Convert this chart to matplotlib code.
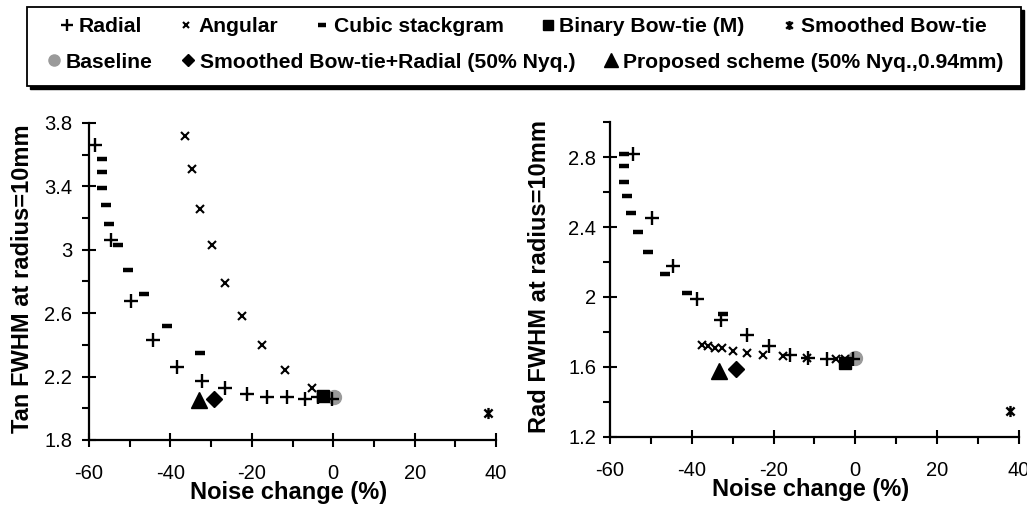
import matplotlib
matplotlib.use('Agg')
import matplotlib.pyplot as plt
from matplotlib.path import Path
from matplotlib.patches import Rectangle
from matplotlib.ticker import MultipleLocator, FuncFormatter

plt.rcParams['font.family'] = ['Liberation Sans', 'DejaVu Sans']

# ---- Tan FWHM (left panel) ----
rad_tan_x = [-58.6, -54.7, -49.6, -44.4, -38.5, -32.3, -26.6, -21.3, -16.2, -11.4, -6.9, -3.7, -0.2]
rad_tan_y = [3.66, 3.06, 2.68, 2.43, 2.26, 2.17, 2.13, 2.09, 2.07, 2.07, 2.06, 2.07, 2.06]
ang_tan_x = [-36.3, -34.8, -32.8, -29.9, -26.5, -22.3, -17.6, -11.9, -5.3]
ang_tan_y = [3.72, 3.51, 3.26, 3.03, 2.79, 2.58, 2.40, 2.24, 2.13]
cub_tan_x = [-56.7, -56.7, -56.7, -55.9, -55.0, -53.0, -50.5, -46.6, -40.8, -32.8]
cub_tan_y = [3.57, 3.49, 3.39, 3.28, 3.16, 3.03, 2.87, 2.72, 2.52, 2.35]
bin_tan_x, bin_tan_y = [-2.5], [2.08]
smo_tan_x, smo_tan_y = [38.0], [1.97]
base_tan_x, base_tan_y = [0.3], [2.07]
sbr_tan_x, sbr_tan_y = [-29.2], [2.06]
prop_tan_x, prop_tan_y = [-33.1], [2.05]
tan_yticks = [1.8, 2.2, 2.6, 3.0, 3.4, 3.8]

# ---- Rad FWHM (right panel) ----
rad_rad_x = [-54.5, -49.8, -44.5, -38.7, -32.9, -26.4, -21.1, -16.0, -11.5, -7.0, -0.5]
rad_rad_y = [2.815, 2.45, 2.18, 1.99, 1.87, 1.78, 1.72, 1.67, 1.65, 1.645, 1.645]
ang_rad_x = [-37.6, -36.0, -34.3, -32.7, -29.9, -26.4, -22.5, -17.6, -11.9, -4.6, -2.5]
ang_rad_y = [1.725, 1.72, 1.71, 1.71, 1.69, 1.68, 1.67, 1.66, 1.65, 1.645, 1.645]
cub_rad_x = [-56.7, -56.7, -56.7, -55.8, -54.9, -53.1, -50.6, -46.6, -41.1, -32.3]
cub_rad_y = [2.82, 2.75, 2.66, 2.58, 2.48, 2.37, 2.26, 2.13, 2.02, 1.905]
bin_rad_x, bin_rad_y = [-2.5], [1.62]
smo_rad_x, smo_rad_y = [37.8], [1.35]
base_rad_x, base_rad_y = [0.0], [1.65]
sbr_rad_x, sbr_rad_y = [-29.2], [1.59]
prop_rad_x, prop_rad_y = [-33.4], [1.575]
rad_yticks = [1.2, 1.6, 2.0, 2.4, 2.8]

xticks = [-60, -40, -20, 0, 20, 40]

labels = ["Radial", "Angular", "Cubic stackgram", "Binary Bow-tie (M)", "Smoothed Bow-tie",
          "Baseline", "Smoothed Bow-tie+Radial (50% Nyq.)", "Proposed scheme (50% Nyq.,0.94mm)"]

# x with a vertical bar, like the excel "star" marker
star = Path([(-1, -1), (1, 1), (-1, 1), (1, -1), (0, -1.35), (0, 1.35)],
            [Path.MOVETO, Path.LINETO, Path.MOVETO, Path.LINETO, Path.MOVETO, Path.LINETO])


def panel(ax, rad, ang, cub, binm, smo, base, sbr, prop, ylim, yticks, ylabel, ypad, lab_x):
    h = []
    h.append(ax.plot(*base, ls='none', marker='o', ms=10, color='#9a9a9a', mec='#9a9a9a', zorder=2)[0])
    h.append(ax.plot(*rad, ls='none', marker='+', ms=10, mew=1.7, color='black', zorder=3)[0])
    h.append(ax.plot(*ang, ls='none', marker='x', ms=6, mew=1.5, color='black', zorder=3)[0])
    h.append(ax.plot(*cub, ls='none', marker='_', ms=7, mew=3.2, color='black', zorder=3)[0])
    h.append(ax.plot(*binm, ls='none', marker='s', ms=9, color='black', zorder=4)[0])
    h.append(ax.plot(*smo, ls='none', marker=star, ms=8, mew=1.7, color='black', zorder=3)[0])
    h.append(ax.plot(*sbr, ls='none', marker='D', ms=8, color='black', zorder=3)[0])
    h.append(ax.plot(*prop, ls='none', marker='^', ms=12, color='black', zorder=3)[0])

    ax.set_xlim(-60, 40)
    ax.set_ylim(*ylim)
    ax.spines['top'].set_visible(False)
    ax.spines['right'].set_visible(False)
    for s in ['left', 'bottom']:
        ax.spines[s].set_linewidth(1.6)
    ax.set_xticks(xticks)
    ax.set_yticks(yticks)
    ax.xaxis.set_minor_locator(MultipleLocator(10))
    ax.yaxis.set_minor_locator(MultipleLocator(0.2))
    fmt = FuncFormatter(lambda v, p: '%g' % round(v, 2))
    ax.xaxis.set_major_formatter(fmt)
    ax.yaxis.set_major_formatter(fmt)
    ax.tick_params(which='major', direction='inout', length=10, width=1.5, labelsize=14.5)
    ax.tick_params(which='minor', direction='out', length=5, width=1.5)
    ax.tick_params(axis='x', which='major', pad=12)
    ax.tick_params(axis='y', which='major', pad=ypad)
    ax.set_xlabel("Noise change (%)", fontsize=17, fontweight='bold')
    ax.set_ylabel(ylabel, fontsize=17, fontweight='bold')
    ax.xaxis.set_label_coords(0.49, -0.13)
    ax.yaxis.set_label_coords(lab_x, 0.51)
    return h


fig = plt.figure(figsize=(10.27, 5.08), dpi=100)
ax1 = fig.add_axes([0.0867, 0.1339, 0.3963, 0.624])
ax2 = fig.add_axes([0.594, 0.1398, 0.398, 0.620])

h = panel(ax1, (rad_tan_x, rad_tan_y), (ang_tan_x, ang_tan_y), (cub_tan_x, cub_tan_y),
          (bin_tan_x, bin_tan_y), (smo_tan_x, smo_tan_y), (base_tan_x, base_tan_y),
          (sbr_tan_x, sbr_tan_y), (prop_tan_x, prop_tan_y),
          (1.8, 3.8), tan_yticks, "Tan FWHM at radius=10mm", 7, -0.135)
panel(ax2, (rad_rad_x, rad_rad_y), (ang_rad_x, ang_rad_y), (cub_rad_x, cub_rad_y),
      (bin_rad_x, bin_rad_y), (smo_rad_x, smo_rad_y), (base_rad_x, base_rad_y),
      (sbr_rad_x, sbr_rad_y), (prop_rad_x, prop_rad_y),
      (1.2, 3.0), rad_yticks, "Rad FWHM at radius=10mm", 5, -0.145)

# legend box with drop shadow
W, H = 1027.0, 508.0
x0, x1, y0, y1 = 27 / W, 1021 / W, 1 - 86 / H, 1 - 7 / H
fig.patches.append(Rectangle((x0 + 3 / W, y0 - 3 / H), x1 - x0, y1 - y0, transform=fig.transFigure,
                             facecolor='black', edgecolor='black', zorder=0))
fig.patches.append(Rectangle((x0, y0), x1 - x0, y1 - y0, transform=fig.transFigure,
                             facecolor='white', edgecolor='black', lw=1.3, zorder=1))

row1 = [h[1], h[2], h[3], h[4], h[5]]
row2 = [h[0], h[6], h[7]]
lab1 = labels[:5]
lab2 = labels[5:]
kw = dict(frameon=False, handlelength=0.7, handletextpad=0.2, borderpad=0,
          prop={'weight': 'bold', 'size': 15.2}, markerscale=0.8)
fig.legend(row1, lab1, loc='center', bbox_to_anchor=(523 / W, 1 - 27 / H), ncol=5, columnspacing=1.75, **kw)
fig.legend(row2, lab2, loc='center', bbox_to_anchor=(525 / W, 1 - 62 / H), ncol=3, columnspacing=1.35, **kw)

fig.savefig('out.png', dpi=100)
